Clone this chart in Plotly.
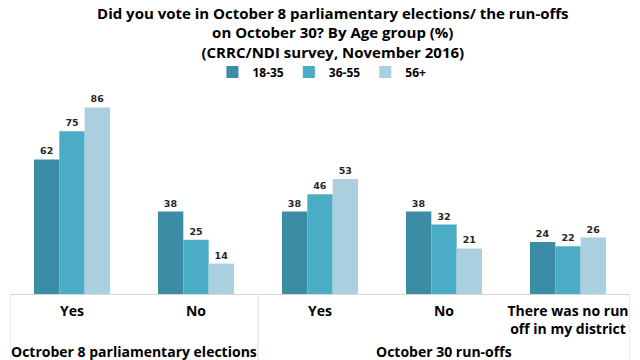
import plotly.graph_objects as go

categories = ["Yes", "No", "Yes", "No", "There was no run<br>off in my district"]
groups = ["Octrober 8 parliamentary elections", "October 30 run-offs"]
series_names = ["18-35", "36-55", "56+"]
v_18_35 = [62, 38, 38, 38, 24]
v_36_55 = [75, 25, 46, 32, 22]
v_56 = [86, 14, 53, 21, 26]
colors = ["#3B8CA4", "#4BACC6", "#AACFDE"]

FONT = "Open Sans"
xs = list(range(len(categories)))
fig = go.Figure()
for name, vals, col in zip(series_names, [v_18_35, v_36_55, v_56], colors):
    fig.add_trace(go.Bar(
        x=xs, y=vals, name="<b>%s</b>" % name, marker=dict(color=col, line=dict(width=0)),
        text=[str(v) for v in vals], textposition="outside",
        textfont=dict(family="DejaVu Sans", size=9.5, color="#262626", weight="bold"),
        cliponaxis=False,
    ))

fig.update_layout(
    width=640, height=360,
    margin=dict(l=10, r=10, t=77, b=66, autoexpand=False),
    paper_bgcolor="white", plot_bgcolor="white",
    barmode="group", bargap=0.387, bargroupgap=0,
    font=dict(family=FONT, color="#000000"),
    title=dict(
        text="<b>Did you vote in October 8 parliamentary elections/ the run-offs<br>on October 30? By Age group (%)<br>(CRRC/NDI survey, November 2016)</b>",
        x=0.52, xanchor="center", xref="container",
        y=0.948, yanchor="top", yref="container",
        font=dict(family=FONT, size=15, color="#000000"),
    ),
    legend=dict(
        orientation="h", xref="container", yref="container",
        x=0.503, xanchor="center", y=0.8, yanchor="middle",
        font=dict(family=FONT, size=12, color="#000000"),
        itemwidth=30, traceorder="normal",
    ),
    showlegend=True,
)
fig.update_xaxes(
    tickvals=xs, ticktext=["<b>%s</b>" % c for c in categories],
    range=[-0.5, 4.5], showgrid=False, zeroline=False, automargin=False,
    showline=True, linecolor="#D9D9D9", linewidth=1,
    ticks="outside", ticklen=4, tickcolor="rgba(0,0,0,0)",
    tickfont=dict(family=FONT, size=14, color="#000000"),
)
fig.update_yaxes(range=[0, 100], visible=False, automargin=False)

# group separators below the axis
for xv in [-0.5, 1.5, 4.5]:
    fig.add_shape(type="line", xref="x", yref="paper", x0=xv, x1=xv, y0=0, y1=-0.31,
                  line=dict(color="#D9D9D9", width=1))

fig.add_annotation(x=0.5, xref="x", y=-0.263, yref="paper", text="<b>%s</b>" % groups[0],
                   showarrow=False, yanchor="middle",
                   font=dict(family=FONT, size=14, color="#000000"))
fig.add_annotation(x=3, xref="x", y=-0.263, yref="paper", text="<b>%s</b>" % groups[1],
                   showarrow=False, yanchor="middle",
                   font=dict(family=FONT, size=14, color="#000000"))

fig.write_html("out.html", config={"displayModeBar": False},
               post_script="document.body.style.margin='0';")
